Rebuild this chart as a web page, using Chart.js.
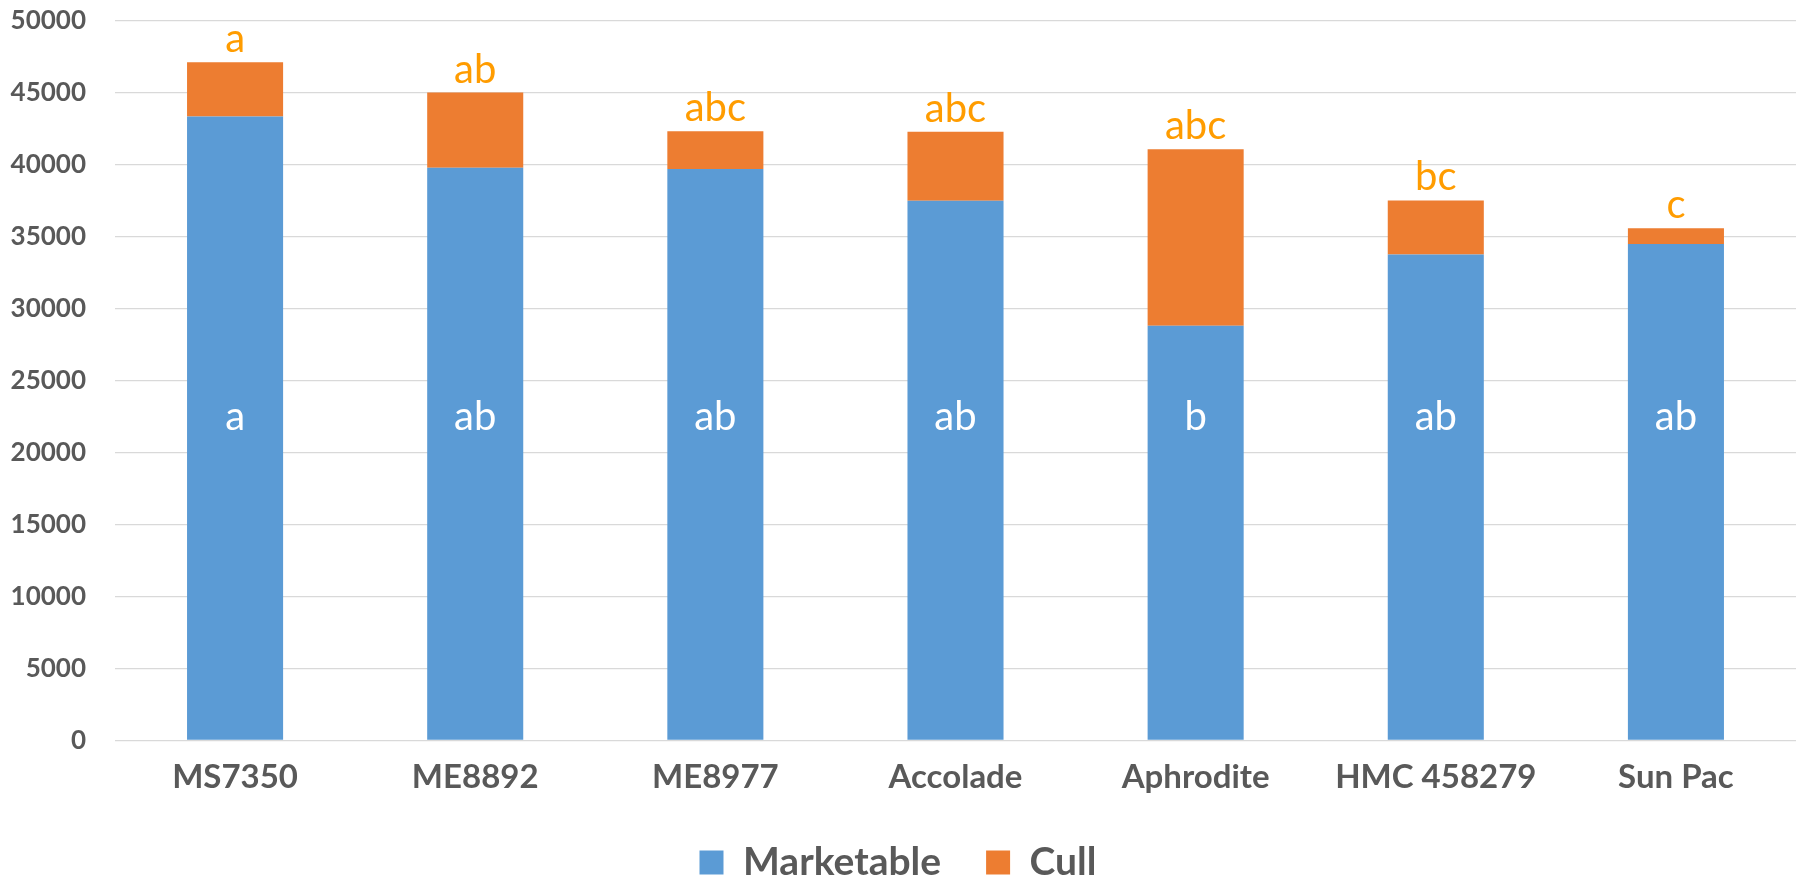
<!DOCTYPE html>
<html>
<head>
<meta charset="utf-8">
<script src="https://cdn.jsdelivr.net/npm/chart.js@4.4.0/dist/chart.umd.min.js"></script>
<style>
  html, body { margin: 0; padding: 0; background: #fff; }
  #wrap { width: 1797px; height: 878px; }
</style>
</head>
<body>
<div id="wrap"><canvas id="grafico"></canvas></div>
<script>
var variedades = ['MS7350', 'ME8892', 'ME8977', 'Accolade', 'Aphrodite', 'HMC 458279', 'Sun Pac'];
var marketable = [43370, 39810, 39710, 37510, 28830, 33780, 34500];
var cull = [3770, 5220, 2620, 4790, 12250, 3750, 1090];
var letrasMarketable = ['a', 'ab', 'ab', 'ab', 'b', 'ab', 'ab'];
var letrasCull = ['a', 'ab', 'abc', 'abc', 'abc', 'bc', 'c'];
var yTicks = [0, 5000, 10000, 15000, 20000, 25000, 30000, 35000, 40000, 45000, 50000];

var gris = '#595959';

// letras de significancia sobre / dentro de las barras
var letras = {
    id: 'letras',
    afterDatasetsDraw: function(chart){
        var ctx = chart.ctx;
        var y = chart.scales.y;
        var base = chart.getDatasetMeta(0).data;
        var arriba = chart.getDatasetMeta(1).data;
        ctx.save();
        ctx.font = '40px Lato';
        ctx.textAlign = 'center';
        ctx.textBaseline = 'alphabetic';
        ctx.fillStyle = '#ffffff';
        for(var i = 0; i < base.length; i++){
            ctx.fillText(letrasMarketable[i], base[i].x, y.getPixelForValue(21600));
        }
        ctx.fillStyle = '#ff9c00';
        for(var j = 0; j < arriba.length; j++){
            ctx.fillText(letrasCull[j], arriba[j].x, arriba[j].y - 10);
        }
        ctx.restore();
    }
};

// leyenda con altura fija
var leyendaBaja = {
    id: 'leyendaBaja',
    afterInit: function(chart){
        var lg = chart.legend;
        var fitOrig = lg.fit.bind(lg);
        lg.fit = function(){
            fitOrig();
            this.height = 80;
        };
    }
};

var chart = new Chart(document.getElementById('grafico'), {
    type: 'bar',
    data: {
        labels: variedades,
        datasets: [{
            label: 'Marketable',
            data: marketable,
            backgroundColor: '#5b9bd5',
            borderWidth: 0
        }, {
            label: 'Cull',
            data: cull,
            backgroundColor: '#ed7d31',
            borderWidth: 0
        }]
    },
    options: {
        responsive: true,
        maintainAspectRatio: false,
        animation: false,
        layout: { padding: { top: 21, left: 0, right: 1, bottom: 0 } },
        datasets: { bar: { categoryPercentage: 1, barPercentage: 0.4 } },
        scales: {
            x: {
                stacked: true,
                afterFit: function(s){ s.height = 57.5; },
                grid: { display: false },
                border: { display: false },
                ticks: { color: gris, font: { family: 'Lato', size: 33, weight: 'bold' }, padding: 9, maxRotation: 0 }
            },
            y: {
                stacked: true,
                min: 0,
                max: 50000,
                afterBuildTicks: function(s){ s.ticks = yTicks.map(function(v){ return { value: v }; }); },
                afterFit: function(s){ s.width = 115; },
                grid: { color: '#d9d9d9', lineWidth: 1.3, drawTicks: true, tickLength: 29, tickColor: 'rgba(0,0,0,0)' },
                border: { display: false },
                ticks: {
                    color: gris,
                    font: { family: 'Lato', size: 26, weight: 'bold' },
                    padding: 0,
                    callback: function(v){ return String(v); }
                }
            }
        },
        plugins: {
            legend: {
                position: 'bottom',
                labels: {
                    color: gris,
                    font: { family: 'Lato', size: 39, weight: 'bold' },
                    boxWidth: 24,
                    boxHeight: 24,
                    padding: 45
                }
            },
            tooltip: { enabled: false }
        }
    },
    plugins: [letras, leyendaBaja]
});
</script>
</body>
</html>
